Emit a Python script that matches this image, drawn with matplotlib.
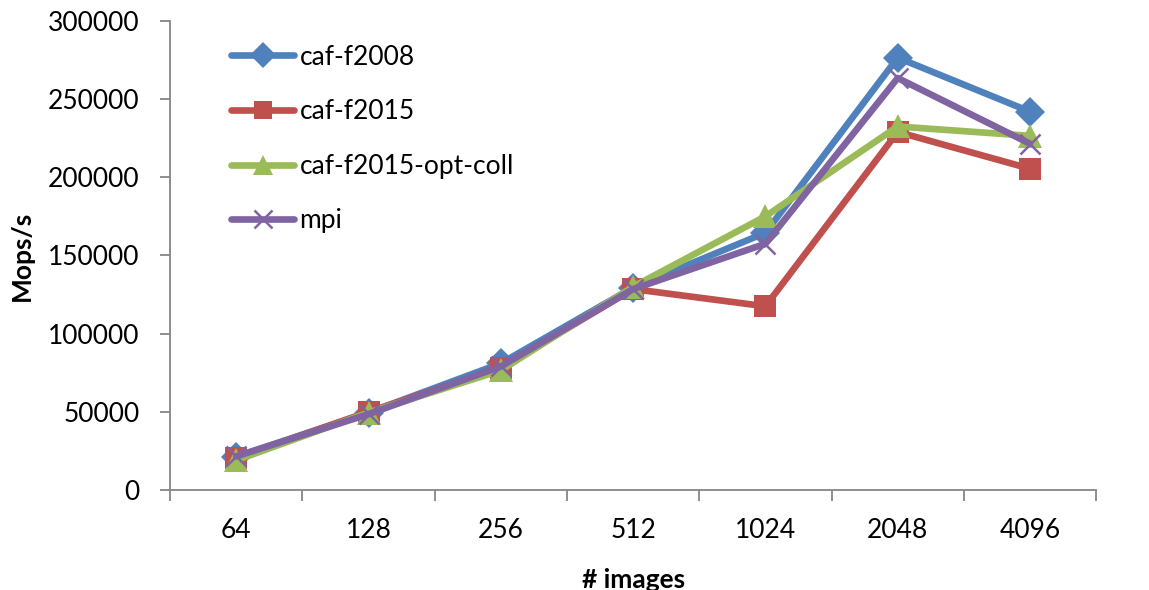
import matplotlib

matplotlib.use("Agg")
import matplotlib.pyplot as plt  # noqa: E402

plt.rcParams["font.family"] = ["Lato", "DejaVu Sans"]

images = ["64", "128", "256", "512", "1024", "2048", "4096"]
caf_f2008 = [21300, 49500, 81000, 129500, 164500, 276500, 242000]
caf_f2015 = [20500, 50000, 78000, 128500, 117500, 229000, 205500]
caf_f2015_opt_coll = [19000, 49500, 76500, 130000, 175000, 232500, 226500]
mpi = [21500, 48500, 79000, 128500, 157500, 263500, 221500]

series = [
    ("caf-f2008", caf_f2008, "#4F81BD", "D", 15),
    ("caf-f2015", caf_f2015, "#C0504D", "s", 15.5),
    ("caf-f2015-opt-coll", caf_f2015_opt_coll, "#9BBB59", "^", 17),
    ("mpi", mpi, "#8064A2", "x", 15),
]

fig = plt.figure(figsize=(11.49, 5.90), dpi=100)
ax = fig.add_axes([0.148, 0.1695, 0.806, 0.795])

x = list(range(len(images)))
for name, vals, color, marker, ms in series:
    ax.plot(x, vals, color=color, linewidth=4.8, marker=marker, markersize=ms,
            markeredgewidth=1.8 if marker == "x" else 0, markeredgecolor=color,
            label=name, solid_joinstyle="round", solid_capstyle="round")

ax.set_xlim(-0.5, len(images) - 0.5)
ax.set_ylim(0, 300000)
ax.set_yticks(range(0, 300001, 50000))
ax.set_xticks(x)
ax.set_xticklabels(images)
ax.set_xticks([i - 0.5 for i in range(len(images) + 1)], minor=True)
ax.tick_params(axis="x", which="major", length=0, pad=20, labelsize=19)
ax.tick_params(axis="x", which="minor", length=8, color="#868686", width=1.3)
ax.tick_params(axis="y", length=7, color="#868686", width=1.3, labelsize=19, pad=15)

for side in ("top", "right"):
    ax.spines[side].set_visible(False)
for side in ("left", "bottom"):
    ax.spines[side].set_color("#868686")
    ax.spines[side].set_linewidth(1.3)

ax.set_xlabel("# images", fontsize=19, fontweight="bold", labelpad=18)
ax.set_ylabel("Mops/s", fontsize=19, fontweight="bold", labelpad=10)

ax.legend(loc="upper left", bbox_to_anchor=(0.04, 1.0), frameon=False, fontsize=19,
          handlelength=2.4, labelspacing=1.12, handletextpad=0.2, markerscale=0.85)

fig.savefig("out.png", dpi=100)
